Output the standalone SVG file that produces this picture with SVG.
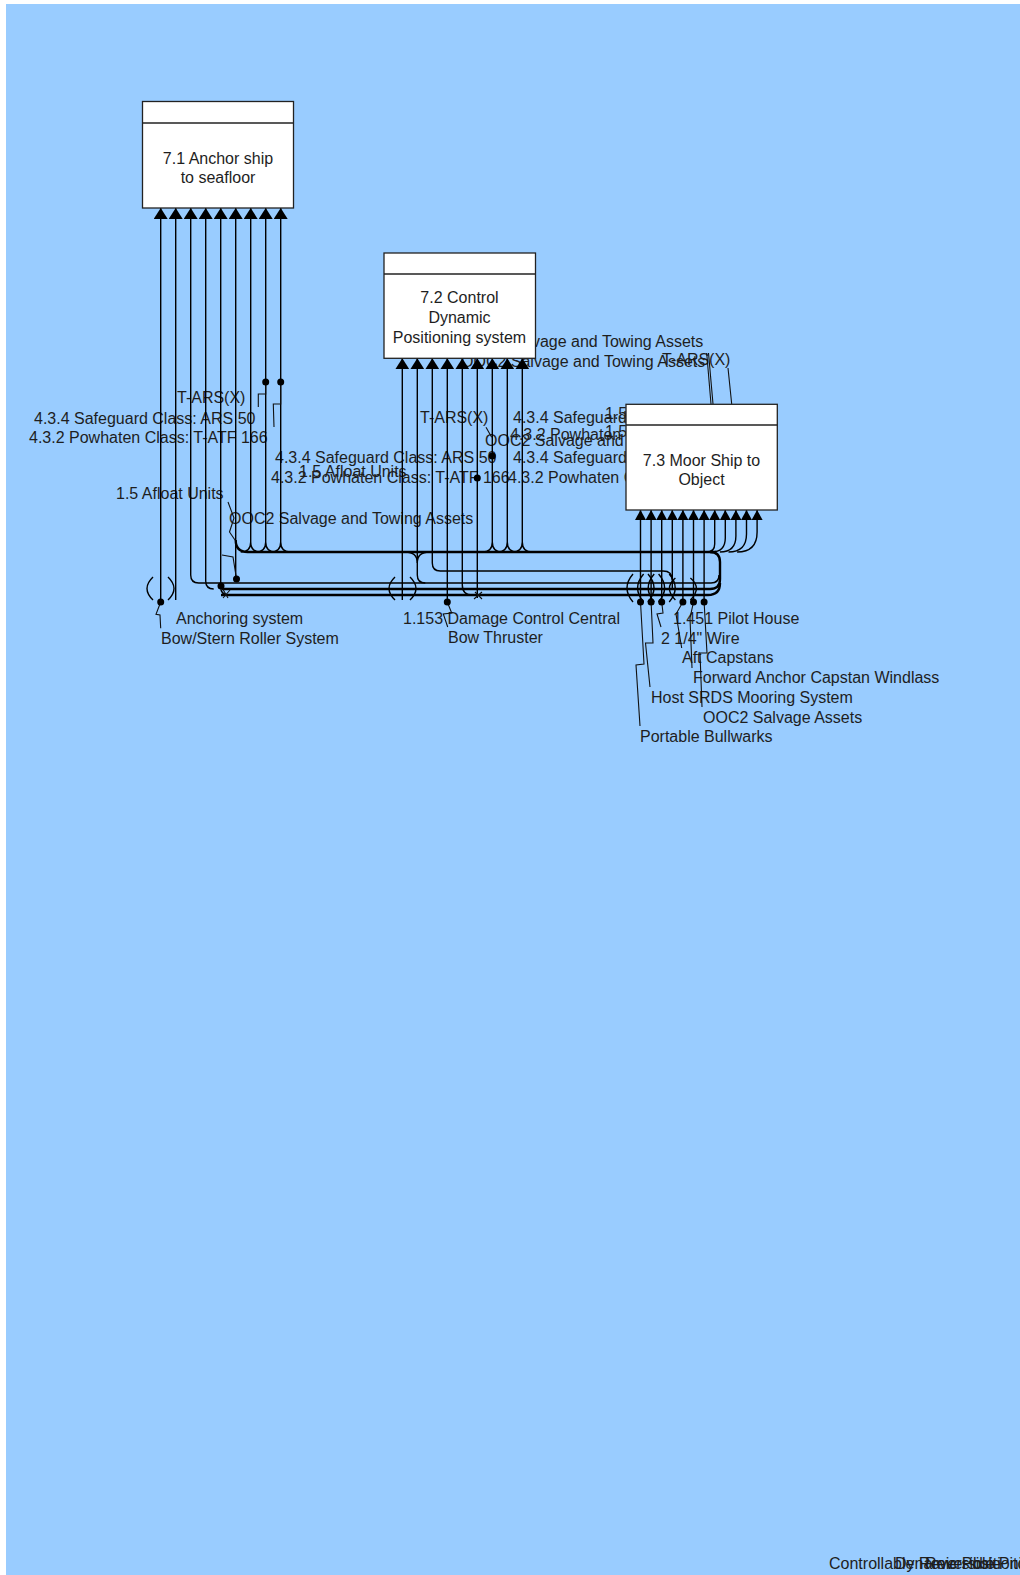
<svg xmlns="http://www.w3.org/2000/svg" width="1020" height="1575" viewBox="0 0 1020 1575">
<style>
.bg{fill:#99ccff}
.box{fill:#ffffff;stroke:#222;stroke-width:1.3}
.hd{stroke:#222;stroke-width:1.3}
.nt{font-family:"Liberation Sans",Arial,sans-serif;font-size:16px;fill:#1e1e1e;text-anchor:middle}
.lb{font-family:"Liberation Sans",Arial,sans-serif;font-size:16px;fill:#1e1e1e}
.ln{fill:none;stroke:#000;stroke-width:1.4}
.bus{fill:none;stroke:#000;stroke-width:2.4}
.ld{fill:none;stroke:#111;stroke-width:1.1}
.dot{fill:#000}
.a1{marker-start:url(#arr)}
.a3{marker-start:url(#arrs)}
</style>
<defs>
<marker id="arr" viewBox="0 0 11 14" refX="11" refY="7" markerWidth="11" markerHeight="14" markerUnits="userSpaceOnUse" orient="auto-start-reverse"><path d="M0,0 L11,7 L0,14 z" fill="#000"/></marker>
<marker id="arrs" viewBox="0 0 10 11" refX="10" refY="5.5" markerWidth="10" markerHeight="11" markerUnits="userSpaceOnUse" orient="auto-start-reverse"><path d="M0,0 L10,5.5 L0,11 z" fill="#000"/></marker>
</defs>
<rect class="bg" x="6" y="4" width="1014" height="1571"/>

<g id="labels">
<text class="lb" x="177" y="403">T-ARS(X)</text>
<text class="lb" x="34" y="424">4.3.4 Safeguard Class: ARS 50</text>
<text class="lb" x="29" y="443">4.3.2 Powhaten Class: T-ATF 166</text>
<text class="lb" x="116" y="499">1.5 Afloat Units</text>
<text class="lb" x="229" y="524">OOC2 Salvage and Towing Assets</text>
<text class="lb" x="176" y="624">Anchoring system</text>
<text class="lb" x="161" y="644">Bow/Stern Roller System</text>
<text class="lb" x="275" y="463">4.3.4 Safeguard Class: ARS 50</text>
<text class="lb" x="271" y="482.5">4.3.2 Powhaten Class: T-ATF 166</text>
<text class="lb" x="299" y="477">1.5 Afloat Units</text>
<text class="lb" x="420" y="423">T-ARS(X)</text>
<text class="lb" x="513" y="423">4.3.4 Safeguard Class: ARS 50</text>
<text class="lb" x="510" y="440">4.3.2 Powhaten Class: T-ATF 166</text>
<text class="lb" x="485" y="446">OOC2 Salvage and Towing Assets</text>
<text class="lb" x="513" y="463">4.3.4 Safeguard Class: ARS 50</text>
<text class="lb" x="508" y="482.5">4.3.2 Powhaten Class: T-ATF 166</text>
<text class="lb" x="605" y="419">1.5 Afloat Units</text>
<text class="lb" x="605" y="437">1.5 Afloat Units</text>
<text class="lb" x="459" y="347">OOC2 Salvage and Towing Assets</text>
<text class="lb" x="461" y="367">OOC2 Salvage and Towing Assets</text>
<text class="lb" x="662" y="365">T-ARS(X)</text>
<text class="lb" x="403" y="624">1.153 Damage Control Central</text>
<text class="lb" x="448" y="643">Bow Thruster</text>
<text class="lb" x="673" y="624">1.451 Pilot House</text>
<text class="lb" x="661" y="644">2 1/4" Wire</text>
<text class="lb" x="682" y="663">Aft Capstans</text>
<text class="lb" x="693" y="683">Forward Anchor Capstan Windlass</text>
<text class="lb" x="651" y="703">Host SRDS Mooring System</text>
<text class="lb" x="703" y="722.5">OOC2 Salvage Assets</text>
<text class="lb" x="640" y="742">Portable Bullwarks</text>
<text class="lb" x="829" y="1569">Controllable Reversible Pitch</text>
<text class="lb" x="895" y="1569">Dynamic Positioning</text>
<text class="lb" x="925" y="1569">Reversible</text>
</g>

<g id="connectors">
<path class="ln a1" d="M160.7,208 V602"/>
<path class="ln a1" d="M175.7,208 V600"/>
<path class="ln a1" d="M190.7,208 V575 Q190.7,583 198.7,583 H711"/>
<path class="ln a1" d="M205.7,208 V581 Q205.7,589 213.7,589"/>
<path class="ln a1" d="M220.7,208 V587 Q220.7,595 228.7,595"/>
<path class="ln a1" d="M235.7,208 V580"/>
<path class="ln a1" d="M250.7,208 V542 Q250.7,552 260.7,552 M250.7,542 Q250.7,552 240.7,552"/>
<path class="ln a1" d="M265.7,208 V542 Q265.7,552 275.7,552 M265.7,542 Q265.7,552 255.7,552"/>
<path class="ln a1" d="M280.7,208 V542 Q280.7,552 290.7,552 M280.7,542 Q280.7,552 270.7,552"/>
<path class="ln a1" d="M402.3,358.3 V600"/>
<path class="ln a1" d="M417.3,358.3 V575 Q417.3,583 425.3,583"/>
<path class="ln" d="M405.3,552 Q417.3,552 417.3,563 M429.3,552 Q417.3,552 417.3,563"/>
<path class="ln a1" d="M432.3,358.3 V563 Q432.3,571 440.3,571 H663 Q672.3,571 672.3,580"/>
<path class="ln a1" d="M447.3,358.3 V602"/>
<path class="ln a1" d="M462.3,358.3 V585 Q462.3,595 472.3,595"/>
<path class="ln a1" d="M477.3,358.3 V598"/>
<path class="ln a1" d="M492.3,358.3 V542 Q492.3,552 502.3,552 M492.3,542 Q492.3,552 482.3,552"/>
<path class="ln a1" d="M507.3,358.3 V542 Q507.3,552 517.3,552 M507.3,542 Q507.3,552 497.3,552"/>
<path class="ln a1" d="M522.3,358.3 V542 Q522.3,552 532.3,552 M522.3,542 Q522.3,552 512.3,552"/>
<path class="ln a3" d="M640.5,510 V602"/>
<path class="ln a3" d="M651.1,510 V602"/>
<path class="ln a3" d="M661.7,510 V602"/>
<path class="ln a3" d="M672.3,510 V590"/>
<path class="ln a3" d="M682.9,510 V602"/>
<path class="ln a3" d="M693.5,510 V602"/>
<path class="ln a3" d="M704.1,510 V602"/>
<path class="ln a3" d="M714.7,510 V544 Q714.7,552 706.7,552"/>
<path class="ln a3" d="M725.3,510 V538 Q725.3,552 711.3,552"/>
<path class="ln a3" d="M735.9,510 V536 Q735.9,552 719.9,552"/>
<path class="ln a3" d="M746.5,510 V534 Q746.5,552 728.5,552"/>
<path class="ln a3" d="M757.1,510 V532 Q757.1,552 737.1,552"/>
<path class="bus" d="M235.7,540 Q235.7,552 247.7,552 H716"/>
<path class="bus" d="M710,552 Q720,552 720,562 V579 Q720,589 710,589 H222"/>
<path class="bus" d="M720,583 Q720,595 708,595 H221"/>
<path class="ln" d="M711,583 Q719,583 719,575"/>
<path class="ln" d="M153,577 Q141,588.5 153,600 M168,577 Q180,588.5 168,600"/>
<path class="ln" d="M395,577 Q383,588.5 395,600 M410,577 Q422,588.5 410,600"/>
<path class="ln" d="M633,574 Q621,588 633,602 M648,574 Q660,588 648,602"/>
<path class="ln" d="M643.6,574 Q631.6,588 643.6,602 M658.6,574 Q670.6,588 658.6,602"/>
<path class="ln" d="M654.2,574 Q642.2,588 654.2,602 M669.2,574 Q681.2,588 669.2,602"/>
<path class="ln" d="M675.4,578 Q663.4,588 675.4,600 M690.4,578 Q702.4,588 690.4,600"/>
<path class="ld" d="M160.7,602 L156,614.3 L160,615 L160.7,628.3"/>
<path class="ld" d="M265.7,382 V394 H258.3 V407"/>
<path class="ld" d="M280.7,382 V404 H273.3 L274,427"/>
<path class="ld" d="M228,502 L234,518 L229.5,532 L235,540"/>
<path class="ld" d="M222,555 L233,557 L236.5,579"/>
<path class="ld" d="M221,586 L228,598 M223,598 L230,590"/>
<path class="ld" d="M475,592 L482,599 M474,599 L482,592"/>
<path class="ld" d="M486,427.3 L491.7,437.3"/>
<path class="ld" d="M447.3,602 L451.7,613 L443.3,614 L447.7,627"/>
<path class="ld" d="M640.5,602 L644,664 L636,665 L640,726"/>
<path class="ld" d="M651.1,602 L653,643 L645.5,643 L650,687"/>
<path class="ld" d="M661.7,602 L663,613 L657,614 L661,627"/>
<path class="ld" d="M682.9,602 L676,614 L681.7,648"/>
<path class="ld" d="M693.5,602 L690,618 L692,668"/>
<path class="ld" d="M704.1,602 L707,653 L700,653 L702,707"/>
<path class="ld" d="M706.7,353 L711,404 M708.5,353 L713,404 M728,368 L731.7,404"/>
<circle class="dot" cx="160.7" cy="602" r="3.5"/>
<circle class="dot" cx="221" cy="586" r="3.5"/>
<circle class="dot" cx="236.5" cy="579" r="3.5"/>
<circle class="dot" cx="265.7" cy="382" r="3.5"/>
<circle class="dot" cx="280.7" cy="382" r="3.5"/>
<circle class="dot" cx="447.3" cy="602" r="3.5"/>
<circle class="dot" cx="492.3" cy="456" r="3.5"/>
<circle class="dot" cx="477.3" cy="478" r="3.5"/>
<circle class="dot" cx="640.5" cy="602" r="3.5"/>
<circle class="dot" cx="651.1" cy="602" r="3.5"/>
<circle class="dot" cx="661.7" cy="602" r="3.5"/>
<circle class="dot" cx="682.9" cy="602" r="3.5"/>
<circle class="dot" cx="693.5" cy="602" r="3.5"/>
<circle class="dot" cx="704.1" cy="602" r="3.5"/>
</g>

<g id="node-7-1">
<rect class="box" x="142.5" y="101.5" width="151" height="106.5"/>
<line class="hd" x1="142.5" y1="123" x2="293.5" y2="123"/>
<text class="nt" x="218" y="164">7.1 Anchor ship</text>
<text class="nt" x="218" y="183">to seafloor</text>
</g>
<g id="node-7-2">
<rect class="box" x="384" y="253" width="151.5" height="105.3"/>
<line class="hd" x1="384" y1="274" x2="535.5" y2="274"/>
<text class="nt" x="459.5" y="303">7.2 Control</text>
<text class="nt" x="459.5" y="323">Dynamic</text>
<text class="nt" x="459.5" y="343">Positioning system</text>
</g>
<g id="node-7-3">
<rect class="box" x="626" y="404.3" width="151.3" height="105.7"/>
<line class="hd" x1="626" y1="425" x2="777.3" y2="425"/>
<text class="nt" x="701.5" y="466">7.3 Moor Ship to</text>
<text class="nt" x="701.5" y="485">Object</text>
</g>
</svg>
